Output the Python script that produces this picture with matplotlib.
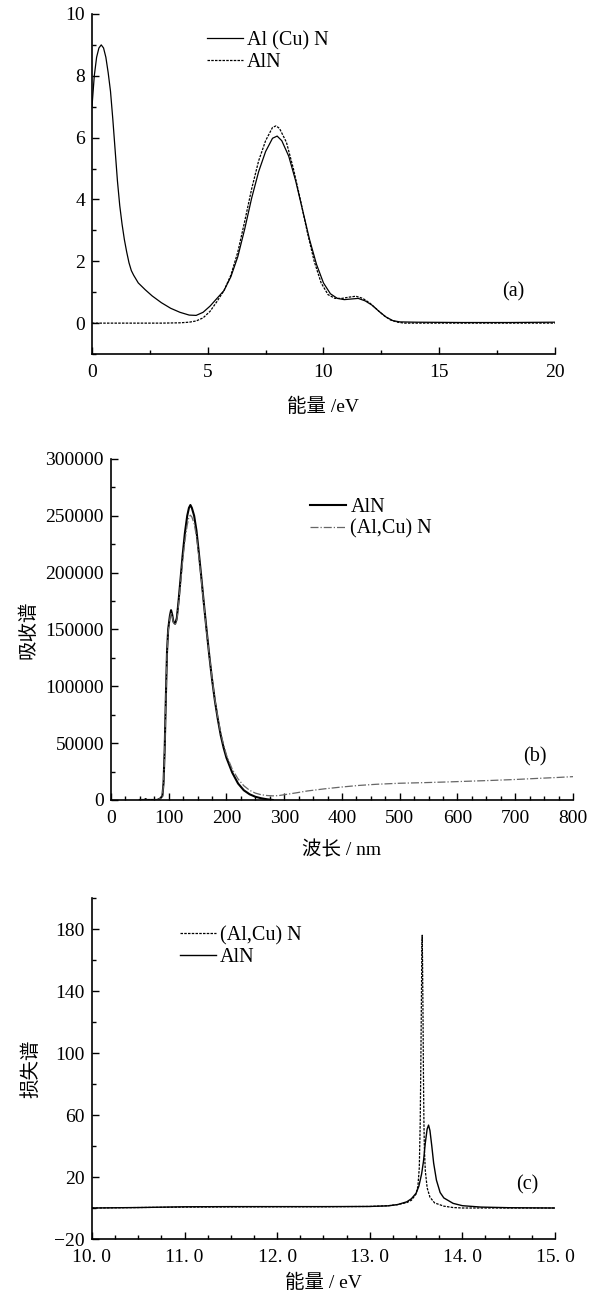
import matplotlib
matplotlib.use('Agg')
import matplotlib.pyplot as plt
from matplotlib.ticker import MultipleLocator, FuncFormatter

plt.rcParams['font.family'] = ['Liberation Serif', 'Noto Sans CJK SC']
plt.rcParams['font.size'] = 14
plt.rcParams['axes.unicode_minus'] = True

# (a) 能量 vs 曲线
a_x_cu = [0.0, 0.1, 0.2, 0.3, 0.4, 0.5, 0.6, 0.7, 0.8, 0.9, 1.0, 1.1, 1.2, 1.3, 1.4, 1.5,
          1.6, 1.7, 1.8, 2.0, 2.3, 2.6, 3.0, 3.4, 3.8, 4.2, 4.5, 4.8, 5.1, 5.4, 5.7, 6.0,
          6.3, 6.6, 6.9, 7.2, 7.5, 7.8, 8.0, 8.2, 8.5, 8.8, 9.1, 9.4, 9.7, 10.0, 10.3,
          10.6, 10.9, 11.2, 11.5, 11.8, 12.1, 12.4, 12.7, 13.0, 13.3, 14.0, 16.0, 18.0, 20.0]
a_y_cu = [7.0, 8.0, 8.6, 8.9, 9.0, 8.9, 8.6, 8.1, 7.5, 6.6, 5.6, 4.6, 3.8, 3.2, 2.7, 2.3,
          1.95, 1.7, 1.55, 1.3, 1.08, 0.88, 0.66, 0.48, 0.35, 0.26, 0.25, 0.35, 0.55, 0.8, 1.05, 1.5,
          2.15, 3.05, 4.05, 4.9, 5.55, 5.98, 6.05, 5.9, 5.4, 4.6, 3.65, 2.7, 1.9, 1.3, 0.95,
          0.8, 0.76, 0.78, 0.8, 0.72, 0.58, 0.38, 0.2, 0.08, 0.04, 0.03, 0.02, 0.02, 0.03]
a_x_aln = [0.0, 1.0, 2.0, 3.0, 3.8, 4.2, 4.5, 4.8, 5.1, 5.4, 5.7, 6.0, 6.3, 6.6, 6.9, 7.2,
           7.5, 7.8, 7.95, 8.1, 8.4, 8.7, 9.0, 9.3, 9.6, 9.9, 10.2, 10.5, 10.8, 11.1, 11.4,
           11.7, 12.0, 12.3, 12.6, 12.9, 13.2, 13.5, 20.0]
a_y_aln = [0.0, 0.0, 0.0, 0.0, 0.01, 0.03, 0.07, 0.17, 0.38, 0.7, 1.05, 1.55, 2.3, 3.3, 4.35, 5.25,
           5.9, 6.33, 6.38, 6.3, 5.85, 5.0, 4.0, 2.95, 2.0, 1.3, 0.92, 0.8, 0.8, 0.84, 0.87,
           0.8, 0.65, 0.45, 0.25, 0.1, 0.03, 0.0, 0.0]

# (b) 吸收谱
b_x_aln = [50, 58, 60, 62, 80, 85, 89, 91, 93, 95, 97, 99, 102, 104, 106, 108, 111, 114, 117,
           120, 124, 128, 132, 135, 137.5, 140, 144, 148, 152, 156, 160, 165, 170, 175, 180,
           185, 190, 195, 200, 210, 220, 230, 240, 250, 260, 270, 280]
b_y_aln = [0, 0, 800, 0, 0, 1200, 3500, 15000, 45000, 90000, 130000, 150000, 162000, 167000,
           163000, 157000, 155000, 160000, 175000, 192000, 215000, 235000, 250000, 257000,
           259500, 257000, 250000, 237000, 218000, 198000, 177000, 152000, 128000, 106000,
           87000, 71000, 57000, 46000, 37000, 24000, 14500, 8500, 5000, 2800, 1500, 600, 0]
b_x_cu = [50, 80, 85, 89, 91, 93, 95, 97, 99, 102, 104, 106, 108, 111, 114, 117, 120, 124, 128,
          132, 135, 137.5, 140, 144, 148, 152, 156, 160, 165, 170, 175, 180, 185, 190, 195,
          200, 210, 220, 230, 240, 250, 260, 270, 280, 290, 300, 320, 340, 370, 400, 430,
          460, 500, 540, 580, 620, 660, 700, 740, 770, 800]
b_y_cu = [0, 0, 1200, 3500, 14000, 43000, 88000, 128000, 148000, 160000, 165000, 162000,
          156000, 154000, 158000, 172000, 188000, 210000, 228000, 242000, 249000, 250500,
          249000, 243000, 232000, 215000, 196000, 176000, 151000, 128000, 107000, 88000,
          72500, 59000, 48500, 39500, 27000, 18500, 12500, 8500, 6000, 4600, 3900, 3600,
          3800, 4600, 6200, 7900, 9800, 11400, 12800, 13800, 14700, 15200, 15800, 16500,
          17200, 18000, 19000, 19700, 20500]

# (c) 损失谱
c_x_aln = [10.0, 10.5, 11.0, 11.5, 12.0, 12.5, 13.0, 13.2, 13.3, 13.4, 13.45, 13.5, 13.53,
           13.56, 13.58, 13.6, 13.62, 13.635, 13.65, 13.67, 13.69, 13.72, 13.76, 13.8, 13.9,
           14.0, 14.2, 14.5, 15.0]
c_y_aln = [0.0, 0.3, 0.8, 0.9, 0.9, 0.9, 1.0, 1.4, 2.2, 4.0, 6.0, 9.5, 14, 22, 30, 42, 51,
           53.5, 50, 40, 29, 18, 10, 6.5, 3.0, 1.5, 0.6, 0.2, 0.0]
c_x_cu = [10.0, 10.5, 11.0, 11.5, 12.0, 12.5, 13.0, 13.2, 13.3, 13.4, 13.45, 13.5, 13.52,
          13.535, 13.545, 13.552, 13.558, 13.563, 13.566, 13.57, 13.575, 13.58, 13.585,
          13.59, 13.6, 13.62, 13.65, 13.7, 13.8, 13.9, 14.0, 15.0]
c_y_cu = [0.0, 0.3, 0.6, 0.7, 0.8, 0.8, 1.0, 1.5, 2.2, 3.5, 5.0, 9, 14, 26, 55, 95, 135,
          170, 176, 160, 125, 85, 55, 38, 24, 13, 7, 3.3, 1.2, 0.3, 0.0, 0.0]

fig = plt.figure(figsize=(5.98, 12.94), dpi=100)
ax1 = fig.add_axes([0.1538, 0.7264, 0.7742, 0.2628])
ax2 = fig.add_axes([0.1856, 0.3818, 0.7726, 0.2635])
ax3 = fig.add_axes([0.1538, 0.0425, 0.7742, 0.2635])

lab_fs = 14
leg_kw = dict(loc='upper left', frameon=False, fontsize=14.5, handlelength=1.8,
              handletextpad=0.2, labelspacing=0.12, borderaxespad=0, borderpad=0)


def style(ax, xpad=7):
    for s in ['top', 'right']:
        ax.spines[s].set_visible(False)
    for s in ['left', 'bottom']:
        ax.spines[s].set_linewidth(1.2)
    ax.tick_params(which='both', direction='in', width=1.0)
    ax.tick_params(which='major', length=5)
    ax.tick_params(which='minor', length=3)
    ax.tick_params(axis='x', which='major', pad=xpad)
    ax.tick_params(axis='y', which='major', pad=5)


# (a)
ax1.plot(a_x_cu, a_y_cu, color='black', lw=0.9, label='Al (Cu) N')
ax1.plot(a_x_aln, a_y_aln, color='black', lw=0.9, ls=(0, (2, 1)), label='AlN')
ax1.set_xlim(0, 20)
ax1.set_ylim(-1, 10)
ax1.xaxis.set_major_locator(MultipleLocator(5))
ax1.xaxis.set_minor_locator(MultipleLocator(2.5))
ax1.yaxis.set_major_locator(MultipleLocator(2))
ax1.yaxis.set_minor_locator(MultipleLocator(1))
ax1.set_xlabel('能量 /eV', fontsize=lab_fs, labelpad=12)
ax1.text(18.2, 1.0, '(a)', ha='center', va='center', fontsize=14.5)
ax1.legend(bbox_to_anchor=(0.248, 0.95), **leg_kw)
style(ax1)

# (b)
ax2.plot(b_x_aln, b_y_aln, color='black', lw=1.5, label='AlN')
ax2.plot(b_x_cu, b_y_cu, color='0.4', lw=0.9, ls='-.', label='(Al,Cu) N')
ax2.set_xlim(0, 800)
ax2.set_ylim(0, 300000)
ax2.xaxis.set_major_locator(MultipleLocator(100))
ax2.xaxis.set_minor_locator(MultipleLocator(25))
ax2.yaxis.set_major_locator(MultipleLocator(50000))
ax2.yaxis.set_minor_locator(MultipleLocator(25000))
ax2.ticklabel_format(style='plain', axis='y')
ax2.set_xlabel('波长 / nm', fontsize=lab_fs, labelpad=10)
ax2.set_ylabel('吸收谱', fontsize=lab_fs, labelpad=6)
ax2.text(734, 38000, '(b)', ha='center', va='center', fontsize=14.5)
ax2.legend(bbox_to_anchor=(0.431, 0.885), **leg_kw)
style(ax2)

# (c)
ax3.plot(c_x_cu, c_y_cu, color='black', lw=0.9, ls=(0, (2, 1)), label='(Al,Cu) N')
ax3.plot(c_x_aln, c_y_aln, color='black', lw=1.0, label='AlN')
ax3.set_xlim(10, 15)
ax3.set_ylim(-20, 200)
ax3.xaxis.set_major_locator(MultipleLocator(1))
ax3.xaxis.set_minor_locator(MultipleLocator(0.25))
ax3.xaxis.set_major_formatter(FuncFormatter(lambda v, p: f'{v:.1f}'.replace('.', '. ')))
ax3.set_yticks([-20, 20, 60, 100, 140, 180])
ax3.yaxis.set_minor_locator(MultipleLocator(20))
ax3.set_xlabel('能量 / eV', fontsize=lab_fs, labelpad=6)
ax3.set_ylabel('损失谱', fontsize=lab_fs, labelpad=10)
ax3.text(14.70, 15, '(c)', ha='center', va='center', fontsize=14.5)
ax3.legend(bbox_to_anchor=(0.19, 0.918), **leg_kw)
style(ax3, xpad=7)

fig.savefig('out.png', dpi=100)
